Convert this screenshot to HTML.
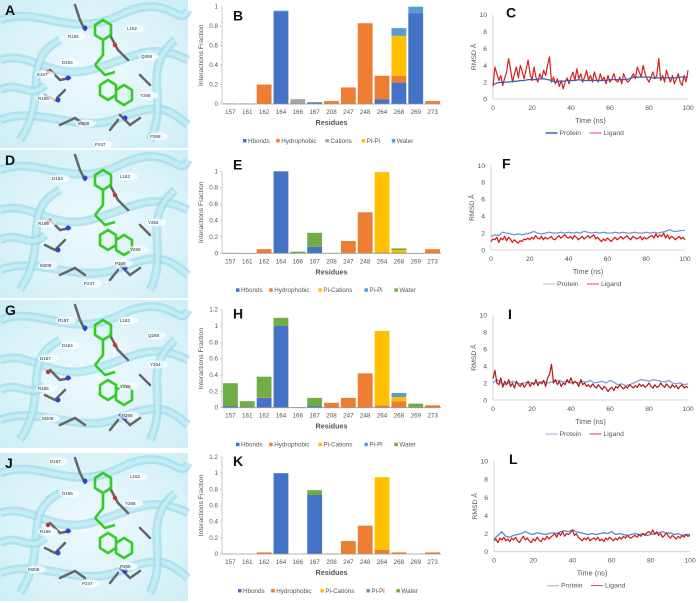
<!DOCTYPE html>
<html><head><meta charset="utf-8">
<style>
html,body{margin:0;padding:0;background:#fff;}
svg{display:block;font-family:"Liberation Sans",Arial,sans-serif;}
.t{font-size:6.3px;fill:#555;}
.ax{font-size:6.8px;fill:#555;}
.ttl{font-size:7.2px;fill:#555;font-weight:bold;}
.let{font-size:14px;font-weight:bold;fill:#111;}
.lab{font-size:4.5px;fill:#333;}
</style></head>
<body>
<svg id="fig" width="700" height="603" viewBox="0 0 700 603">
<defs>
<radialGradient id="cy" cx="50%" cy="50%" r="70%"><stop offset="0" stop-color="#eef9fc"/><stop offset="1" stop-color="#cdeef5"/></radialGradient>
</defs>
<g id="mols"></g>
<g id="bars"></g>
<g id="rmsd"></g>
</svg>
<script>
const residues = ["157","161","162","164","166","167","208","247","248","264","268","269","273"];
// Panel B: Hbonds, Hydrophobic, Cations, Pi-Pi, Water
const bHbonds = [0.005,0.005,0,0.95,0,0.01,0,0,0,0.05,0.22,0.93,0];
const bHydro  = [0,0,0.2,0,0,0,0.03,0.17,0.83,0.24,0.07,0,0.03];
const bCations= [0,0,0,0,0.05,0,0,0,0,0,0,0,0];
const bPiPi   = [0,0,0,0,0,0,0,0,0,0,0.41,0,0];
const bWater  = [0,0,0,0.01,0,0.01,0,0,0,0,0.08,0.07,0];
// Panel E: Hbonds, Hydrophobic, Pi-Cations, Pi-Pi, Water
const eHbonds = [0.005,0,0,1.0,0,0.08,0,0,0,0,0,0,0];
const eHydro  = [0,0,0.05,0,0,0,0.005,0.15,0.5,0.01,0.01,0,0.05];
const ePiCat  = [0,0,0,0,0,0,0,0,0,0.98,0.03,0,0];
const ePiPi   = [0,0.003,0,0,0,0,0,0,0,0,0,0.003,0];
const eWater  = [0,0,0,0,0.02,0.17,0,0,0,0,0.02,0,0];
// Panel H
const hHbonds = [0.02,0,0.12,1.0,0.005,0.02,0,0,0,0,0,0,0];
const hHydro  = [0,0,0.01,0,0,0,0.06,0.12,0.42,0.03,0.08,0,0.03];
const hPiCat  = [0,0,0,0,0,0,0,0,0,0.91,0.05,0,0];
const hPiPi   = [0,0,0,0,0,0,0,0,0,0,0.05,0,0];
const hWater  = [0.28,0.08,0.25,0.1,0,0.1,0,0,0,0,0,0.05,0];
// Panel K
const kHbonds = [0,0,0,1.0,0,0.73,0,0,0,0,0,0,0];
const kHydro  = [0,0,0.02,0,0,0,0.005,0.16,0.35,0.05,0.02,0,0.02];
const kPiCat  = [0,0,0,0,0,0,0,0,0,0.9,0,0,0];
const kPiPi   = [0,0,0,0,0,0,0,0,0,0,0,0,0];
const kWater  = [0,0,0,0,0,0.06,0,0,0,0,0,0,0];
const ticks1 = ["0","0.2","0.4","0.6","0.8","1"];
const ticks12 = ["0","0.2","0.4","0.6","0.8","1","1.2"];
const legendB = ["Hbonds","Hydrophobic","Cations","Pi-Pi","Water"];
const legendE = ["Hbonds","Hydrophobic","Pi-Cations","Pi-Pi","Water"];

// RMSD data
const rmsdTicks = ["0","2","4","6","8","10"];
const timeTicks = ["0","20","40","60","80","100"];
const cProtein = [1.7,1.9,2.0,2.0,2.0,2.1,2.1,2.2,2.2,2.3,2.3,2.3,2.4,2.4,2.3,2.2,2.0,2.1,2.1,2.2,2.2,2.2,2.3,2.2,2.2,2.2,2.2,2.2,2.2,2.2,2.3,2.3,2.3,2.3,2.3,2.4,2.6,2.6,2.6,2.6,2.6,2.5,2.5,2.5,2.5,2.5,2.5,2.5,2.6,2.6,2.6];
const cLigand = [1.5,3.8,3.0,2.2,2.8,1.6,2.5,3.2,4.8,3.5,2.0,3.0,3.8,2.5,4.0,3.2,2.4,3.5,4.6,3.0,2.2,3.8,2.6,2.0,3.0,2.4,3.4,2.8,4.0,5.0,2.0,2.6,1.8,2.4,1.5,2.2,1.2,2.0,2.5,1.8,2.6,3.2,2.2,3.6,2.4,3.0,2.0,2.6,3.4,2.2,2.8,2.0,3.2,2.4,2.0,3.0,2.2,2.6,1.8,2.8,2.0,2.4,3.0,2.2,2.0,2.6,1.8,3.0,2.4,2.0,2.2,2.6,3.0,2.4,3.8,3.2,2.6,4.0,3.0,2.4,2.0,2.6,3.2,2.4,2.8,4.8,2.2,2.8,2.0,3.4,2.6,2.0,2.8,1.8,2.4,3.0,2.0,1.6,2.8,2.0,3.4];
const fProtein = [1.6,1.8,1.7,2.1,2.0,1.9,1.8,1.9,1.8,1.9,2.0,2.2,2.0,1.9,2.0,2.1,2.0,2.0,2.1,2.0,2.1,2.0,2.1,2.0,2.2,2.1,2.0,2.1,2.0,2.1,2.0,2.0,2.1,2.0,2.1,2.0,2.0,2.1,2.0,2.0,2.1,2.0,2.1,2.0,2.1,2.2,2.4,2.2,2.2,2.3,2.3];
const fLigand = [1.0,1.3,1.2,1.5,0.9,1.4,1.2,1.6,1.1,1.5,1.3,0.9,1.2,1.0,0.8,1.1,1.0,1.3,1.2,1.4,1.2,1.5,1.3,1.7,1.4,1.3,1.6,1.2,1.5,1.3,1.4,1.6,1.3,1.2,1.5,1.7,1.4,1.6,1.8,1.5,1.4,1.6,1.3,1.7,1.5,1.2,1.4,1.6,1.3,1.5,1.7,1.4,1.6,1.8,1.3,1.5,1.2,1.0,1.3,1.1,1.4,1.2,1.0,1.3,1.5,1.2,1.4,1.6,1.3,1.5,1.7,1.4,1.2,1.6,1.5,1.3,1.4,1.6,1.2,1.5,1.3,1.4,1.6,1.7,1.4,1.9,1.5,1.8,1.6,2.0,1.4,1.8,1.3,1.6,1.5,1.2,1.4,1.6,1.3,1.5,1.2];
const iProtein = [2.0,2.4,2.0,1.8,2.0,2.2,2.0,1.9,2.0,2.1,2.0,2.0,2.1,2.2,2.0,2.1,2.2,2.3,2.1,2.2,2.0,2.1,2.0,2.2,2.1,2.3,2.0,2.1,2.2,2.0,2.3,2.1,1.8,1.9,1.7,1.8,2.0,2.2,2.4,2.3,2.2,2.4,2.3,2.2,2.1,2.3,2.0,1.9,2.0,1.8,1.9];
const iLigand = [2.5,3.5,2.0,1.8,2.6,1.5,2.2,1.8,2.4,1.6,2.0,1.4,2.2,1.8,1.6,2.0,1.5,1.8,2.2,1.6,2.0,1.8,2.4,1.7,2.1,1.9,2.3,1.6,2.6,3.0,4.2,2.0,2.4,1.8,2.2,1.6,2.0,1.8,2.4,2.0,2.6,1.9,2.2,2.0,1.6,2.4,1.8,2.0,1.6,1.8,1.5,1.9,1.6,1.4,1.8,1.5,1.2,1.6,1.4,1.0,1.3,1.5,1.1,1.6,1.4,1.8,1.5,1.3,1.6,1.4,1.8,1.6,1.4,1.7,1.5,1.9,1.6,1.8,1.5,1.7,2.0,1.6,1.4,1.8,1.5,1.6,2.0,1.7,1.5,1.9,1.6,1.4,1.8,1.5,1.7,1.3,1.6,1.8,1.4,1.6,1.5];
const lProtein = [1.4,1.8,2.2,1.7,1.6,1.8,1.9,2.0,2.2,2.0,1.9,2.1,2.0,1.9,2.0,2.1,2.0,2.2,2.3,2.2,2.4,2.2,2.1,2.0,1.9,2.0,1.9,2.0,2.1,2.0,2.2,1.9,2.0,1.9,1.8,1.9,2.0,1.9,2.0,1.8,1.9,2.0,2.1,2.2,2.0,2.1,1.9,2.0,1.8,1.9,1.9];
const lLigand = [1.2,1.4,1.0,1.5,1.3,1.6,1.2,1.4,1.1,1.5,1.3,1.6,1.2,1.0,1.4,1.7,1.3,1.5,1.2,1.0,1.4,1.2,1.6,1.3,1.1,1.5,1.3,1.7,1.4,1.6,1.8,2.0,1.6,2.1,1.8,2.2,1.7,2.0,1.9,2.1,2.4,1.8,2.0,1.6,1.4,1.2,1.5,1.3,1.6,1.2,1.4,1.5,1.3,1.6,1.2,1.4,1.1,1.5,1.3,1.6,1.4,1.2,1.5,1.3,1.6,1.4,1.7,1.5,1.8,1.6,1.5,1.7,1.8,1.6,1.9,1.7,2.0,1.8,2.1,2.2,2.0,2.4,1.9,2.2,1.8,2.0,1.6,1.8,2.1,1.7,1.5,1.8,1.6,1.4,1.7,1.5,1.8,1.6,1.9,1.7,1.8];

const NS="http://www.w3.org/2000/svg";
function mk(tag, attrs, parent){const e=document.createElementNS(NS,tag);for(const k in attrs)e.setAttribute(k,attrs[k]);parent.appendChild(e);return e;}
function txt(s, attrs, parent){const e=mk("text",attrs,parent);e.textContent=s;return e;}

/* ---------- bar charts ---------- */
const barsG=document.getElementById("bars");
function barChart(cfg){
  const g=mk("g",{},barsG);
  
  
  const x0=222,x1=441,yTop=cfg.yTop,y0=cfg.y0,max=cfg.max;
  const slot=(x1-x0)/residues.length,bw=slot*0.88;
  const sx=i=>x0+i*slot+(slot-bw)/2;
  const sy=v=>y0-(v/max)*(y0-yTop);
  const yl=mk("line",{x1:x0,y1:yTop,x2:x0,y2:y0,stroke:"#bbb","stroke-width":0.8},g);
  
  
  cfg.ticks.forEach((t,i)=>{
    const v=parseFloat(t);
    const tl=txt(t,{x:x0-4,y:sy(v)+2,"text-anchor":"end",class:"t"},g);
    
    
    mk("line",{x1:x0-2,y1:sy(v),x2:x0,y2:sy(v),stroke:"#bbb","stroke-width":0.6},g);
  });
  const yt=txt("Interactions Fraction",{x:0,y:0,transform:`translate(${x0-19},${(yTop+y0)/2}) rotate(-90)`,"text-anchor":"middle",class:"ax"},g);
  
  
  residues.forEach((r,i)=>{
    let acc=0;
    cfg.series.forEach((s,si)=>{
      const v=s[i];if(!v)return;
      const r1=mk("rect",{x:sx(i),y:sy(acc+v),width:bw,height:Math.max(sy(acc)-sy(acc+v),0.6),fill:cfg.colors[si]},g);
      
      
      acc+=v;
    });
    const xl=txt(r,{x:x0+i*slot+slot/2,y:y0+10,"text-anchor":"middle",class:"t"},g);
    
    
  });
  const xa=mk("line",{x1:x0,y1:y0,x2:x1,y2:y0,stroke:"#999","stroke-width":0.8},g);
  
  
  const xt=txt("Residues",{x:(x0+x1)/2,y:y0+21,"text-anchor":"middle",class:"ttl"},g);
  
  
  let lx=cfg.legX;
  cfg.legend.forEach((l,si)=>{
    const sw=mk("rect",{x:lx,y:y0+35,width:3.5,height:3.5,fill:cfg.colors[si]},g);
    
    
    const lt=txt(l,{x:lx+5,y:y0+38.8,class:"t"},g);
    
    
    lx+=l.length*3.2+14;
  });
  const le=txt(cfg.letter,{x:233,y:yTop+cfg.letterDy,class:"let"},g);
  
  
}
const C5=["#4472C4","#ED7D31","#A5A5A5","#FFC000","#5B9BD5"];
const C5b=["#4472C4","#ED7D31","#FFC000","#5B9BD5","#70AD47"];
barChart({name:"chart-b",letter:"B",yTop:6.7,y0:104,max:1,ticks:ticks1,series:[bHbonds,bHydro,bCations,bPiPi,bWater],colors:C5,legend:legendB,legX:243,letterDy:14});
barChart({name:"chart-e",letter:"E",yTop:171.3,y0:253.3,max:1,ticks:ticks1,series:[eHbonds,eHydro,ePiCat,ePiPi,eWater],colors:C5b,legend:legendE,legX:236,letterDy:-2});
barChart({name:"chart-h",letter:"H",yTop:309.7,y0:407.7,max:1.2,ticks:ticks12,series:[hHbonds,hHydro,hPiCat,hPiPi,hWater],colors:C5b,legend:legendE,legX:236,letterDy:9});
barChart({name:"chart-k",letter:"K",yTop:457,y0:554,max:1.2,ticks:ticks12,series:[kHbonds,kHydro,kPiCat,kPiPi,kWater],colors:C5b,legend:legendE,legX:238,letterDy:9});

/* ---------- RMSD charts ---------- */
const rG=document.getElementById("rmsd");
function rmsdChart(cfg){
  const g=mk("g",{},rG);
  
  
  const {x0,x1,yTop,y0}=cfg;
  const sx=t=>x0+t/100*(x1-x0);
  const sy=v=>y0-v/10*(y0-yTop);
  const ya=mk("line",{x1:x0,y1:yTop,x2:x0,y2:y0,stroke:"#ccc","stroke-width":0.8},g);
  
  
  const xa=mk("line",{x1:x0,y1:y0,x2:x1,y2:y0,stroke:"#ccc","stroke-width":0.8},g);
  
  
  rmsdTicks.forEach(t=>{
    const l=txt(t,{x:x0-6,y:sy(+t)+2.5,"text-anchor":"end",class:"ax"},g);
    
    
  });
  timeTicks.forEach(t=>{
    const l=txt(t,{x:sx(+t),y:y0+11,"text-anchor":"middle",class:"ax"},g);
    
    
  });
  const yt=txt("RMSD Å",{x:0,y:0,transform:`translate(${x0-17},${(yTop+y0)/2}) rotate(-90)`,"text-anchor":"middle",class:"ax"},g);
  
  
  const xt=txt("Time (ns)",{x:(x0+x1)/2,y:y0+24,"text-anchor":"middle",class:"ax",style:"font-size:7.3px"},g);
  
  
  const pts=a=>a.map((v,i)=>sx(i*100/(a.length-1)).toFixed(1)+","+sy(v).toFixed(1)).join(" ");
  const order=cfg.proteinOnTop?[["ligand",cfg.lig,cfg.lc],["protein",cfg.prot,cfg.pc]]:[["protein",cfg.prot,cfg.pc],["ligand",cfg.lig,cfg.lc]];
  order.forEach(([n,a,c])=>{
    const p=mk("polyline",{points:pts(a),fill:"none",stroke:c,"stroke-width":n==="protein"?1.3:1.2,"stroke-linejoin":"round"},g);
    
    
  });
  const lyy=y0+36, lx=(x0+x1)/2-45;
  mk("line",{x1:lx,y1:lyy-2,x2:lx+12,y2:lyy-2,stroke:cfg.pcl||cfg.pc,"stroke-width":1.5},g);
  const l1=txt("Protein",{x:lx+14,y:lyy,class:"ax"},g);
  
  
  mk("line",{x1:lx+44,y1:lyy-2,x2:lx+56,y2:lyy-2,stroke:cfg.lc,"stroke-width":0.8},g);
  const l2=txt("Ligand",{x:lx+58,y:lyy,class:"ax"},g);
  
  
  const le=txt(cfg.letter,{x:x0+cfg.ldx,y:yTop+cfg.ldy,class:"let"},g);
  
  
}
rmsdChart({name:"chart-c",letter:"C",x0:493,x1:688,yTop:14.7,y0:99,prot:cProtein,lig:cLigand,pc:"#3a5fb0",lc:"#d42020",ldx:13,ldy:3,proteinOnTop:true});
rmsdChart({name:"chart-f",letter:"F",x0:491,x1:685,yTop:165.3,y0:250,prot:fProtein,lig:fLigand,pc:"#6f95d6",pcl:"#c9d4ea",lc:"#d41010",ldx:11,ldy:3});
rmsdChart({name:"chart-i",letter:"I",x0:493,x1:688,yTop:315,y0:400,prot:iProtein,lig:iLigand,pc:"#7f9fd8",pcl:"#b8c8e8",lc:"#b01818",ldx:15,ldy:4});
rmsdChart({name:"chart-l",letter:"L",x0:494,x1:690,yTop:461,y0:551.7,prot:lProtein,lig:lLigand,pc:"#5f85cf",pcl:"#b8c8e8",lc:"#c81818",ldx:15,ldy:3});

/* ---------- molecular images (decorative) ---------- */
const mG=document.getElementById("mols");
function molPanel(letter, oy, labels){
  const g=mk("g",{},mG);
  
  
  mk("rect",{x:0,y:oy,width:188,height:148,fill:"url(#cy)"},g);
  const rib=[`M0 ${oy+20} C40 ${oy+5} 70 ${oy+40} 120 ${oy+15} S180 ${oy+30} 188 ${oy+10}`,
             `M0 ${oy+60} C30 ${oy+50} 50 ${oy+80} 90 ${oy+70} S150 ${oy+40} 188 ${oy+60}`,
             `M0 ${oy+120} C40 ${oy+105} 80 ${oy+135} 120 ${oy+118} S170 ${oy+110} 188 ${oy+125}`,
             `M20 ${oy+140} C50 ${oy+95} 20 ${oy+60} 60 ${oy+40}`,
             `M150 ${oy+140} C170 ${oy+100} 140 ${oy+70} 175 ${oy+40}`,
             `M0 ${oy+90} C20 ${oy+80} 30 ${oy+100} 45 ${oy+85}`];
  rib.forEach(d=>{mk("path",{d,fill:"none",stroke:"#9cdbe9","stroke-width":9,opacity:0.7},g);mk("path",{d,fill:"none",stroke:"#c4ecf4","stroke-width":4},g);});
  const sticks=[[50,70,60,80],[60,80,70,78],[45,95,55,100],[55,100,65,90],[110,35,118,50],[118,50,128,60],[75,5,80,20],[80,20,85,30],[60,125,75,118],[75,118,85,125],[120,115,130,125],[130,125,140,118],[140,75,150,85],[110,130,118,120]];
  sticks.forEach(s=>mk("line",{x1:s[0],y1:oy+s[1],x2:s[2],y2:oy+s[3],stroke:"#666","stroke-width":2.5,"stroke-linecap":"round"},g));
  [[68,78],[58,100],[125,118],[85,28]].forEach(p=>mk("circle",{cx:p[0],cy:oy+p[1],r:2.5,fill:"#3344cc"},g));
  [[48,72],[115,45]].forEach(p=>mk("circle",{cx:p[0],cy:oy+p[1],r:2.2,fill:"#d03030"},g));
  const lig=`M95 ${oy+25} l8 -5 l8 5 l0 10 l-8 5 l-8 -5 z M103 ${oy+40} l0 15 l-8 10 M95 ${oy+65} l10 10 l10 -3 M100 ${oy+85} l8 -5 l8 5 l0 10 l-8 5 l-8 -5 z M116 ${oy+90} l8 -5 l8 5 l0 10 l-8 5 l-8 -5 z`;
  mk("path",{d:lig,fill:"none",stroke:"#33cc22","stroke-width":2.6,"stroke-linejoin":"round"},g);
  labels.forEach(l=>{
    mk("ellipse",{cx:l[1]+8,cy:oy+l[2]-1.5,rx:10,ry:4,fill:"#fff",opacity:0.7},g);
    const t=txt(l[0],{x:l[1],y:oy+l[2],class:"lab"},g);
    
    
  });
  const le=txt(letter,{x:5,y:oy+15,class:"let"},g);
  
  
}
molPanel("A",0,[["R155",68,38],["L162",127,30],["D164",62,64],["Q269",141,58],["E167",37,76],["R166",38,100],["Y268",140,97],["M208",78,125],["P268",150,138],["P247",95,146]]);
molPanel("D",150,[["D164",52,30],["L162",120,28],["R166",38,75],["Y264",148,74],["Y268",130,101],["M208",40,117],["P268",115,115],["P247",84,135]]);
molPanel("G",300,[["R157",58,22],["L162",120,22],["Q269",148,37],["D164",62,47],["D167",40,60],["Y264",150,66],["R166",38,90],["Y268",120,88],["M208",42,120],["P268",122,117]]);
molPanel("J",453,[["D167",50,10],["L162",130,25],["D166",62,42],["Y268",125,52],["R166",40,80],["M208",28,118],["P268",120,115],["P247",82,132]]);
</script>
</body></html>
